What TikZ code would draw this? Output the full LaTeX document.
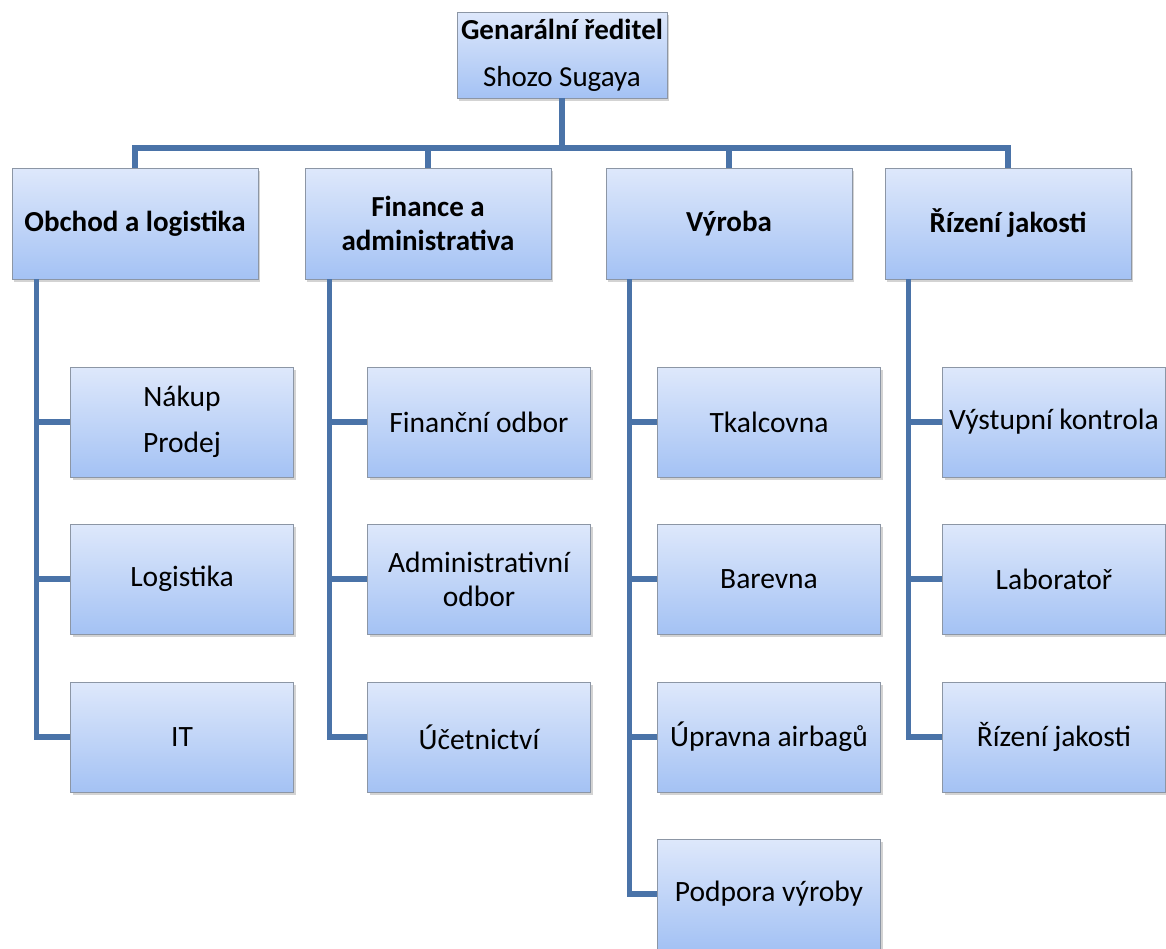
\documentclass[tikz,border=0pt]{standalone}
\usepackage{fontspec}
\setmainfont{Carlito}
\usetikzlibrary{shadows}
\definecolor{linec}{RGB}{74,115,168}
\definecolor{boxtop}{RGB}{222,232,251}
\definecolor{boxbot}{RGB}{164,194,244}
\definecolor{boxdraw}{RGB}{140,150,165}
\tikzset{
  orgbox/.style={draw=boxdraw, line width=0.8pt, top color=boxtop, bottom color=boxbot,
    drop shadow={opacity=0.35, shadow xshift=2pt, shadow yshift=-3pt},
    align=center, inner sep=1pt},
  topbox/.style={orgbox, minimum width=210pt, minimum height=86pt, font=\fontsize{29}{34}\selectfont},
  headbox/.style={orgbox, minimum width=246pt, minimum height=111pt, font=\bfseries\fontsize{29}{34}\selectfont},
  subbox/.style={orgbox, minimum width=223pt, minimum height=110pt, font=\fontsize{29.5}{34}\selectfont},
  conn/.style={draw=linec, line width=5.5pt}
}
\begin{document}
\begin{tikzpicture}[x=1pt,y=1pt]
\useasboundingbox (0,0) rectangle (1166,-948);
\coordinate (bus) at (562,-148);
\node[topbox] (top) at (562,-55) {\textbf{Genarální ředitel}\\[13pt]Shozo Sugaya};
\node[headbox] (h1) at (135,-223.5) {Obchod a logistika};
\node[headbox] (h2) at (428,-223.5) {Finance a\\administrativa};
\node[headbox] (h3) at (729,-223.5) {Výroba};
\node[headbox] (h4) at (1008,-223.5) {Řízení jakosti};

\node[subbox] (a1) at (182,-422) {Nákup\\[12pt]Prodej};
\node[subbox] (a2) at (182,-579) {Logistika};
\node[subbox] (a3) at (182,-737) {IT};

\node[subbox] (b1) at (479,-422) {Finanční odbor};
\node[subbox] (b2) at (479,-579) {Administrativní\\odbor};
\node[subbox] (b3) at (479,-737) {Účetnictví};

\node[subbox] (c1) at (769,-422) {Tkalcovna};
\node[subbox] (c2) at (769,-579) {Barevna};
\node[subbox] (c3) at (769,-737) {Úpravna airbagů};
\node[subbox] (c4) at (769,-894) {Podpora výroby};

\node[subbox] (d1) at (1054,-422) {Výstupní kontrola};
\node[subbox] (d2) at (1054,-579) {Laboratoř};
\node[subbox] (d3) at (1054,-737) {Řízení jakosti};

\draw[conn] (top.south) -- (bus);
\draw[conn] (bus) -| (h1.north);
\draw[conn] (bus) -| (h2.north);
\draw[conn] (bus) -| (h3.north);
\draw[conn] (bus) -| (h4.north);

\draw[conn] ([xshift=25pt]h1.south west) |- (a1.west);
\draw[conn] ([xshift=25pt]h1.south west) |- (a2.west);
\draw[conn] ([xshift=25pt]h1.south west) |- (a3.west);

\draw[conn] ([xshift=25pt]h2.south west) |- (b1.west);
\draw[conn] ([xshift=25pt]h2.south west) |- (b2.west);
\draw[conn] ([xshift=25pt]h2.south west) |- (b3.west);

\draw[conn] ([xshift=24pt]h3.south west) |- (c1.west);
\draw[conn] ([xshift=24pt]h3.south west) |- (c2.west);
\draw[conn] ([xshift=24pt]h3.south west) |- (c3.west);
\draw[conn] ([xshift=24pt]h3.south west) |- (c4.west);

\draw[conn] ([xshift=24pt]h4.south west) |- (d1.west);
\draw[conn] ([xshift=24pt]h4.south west) |- (d2.west);
\draw[conn] ([xshift=24pt]h4.south west) |- (d3.west);
\end{tikzpicture}
\end{document}
